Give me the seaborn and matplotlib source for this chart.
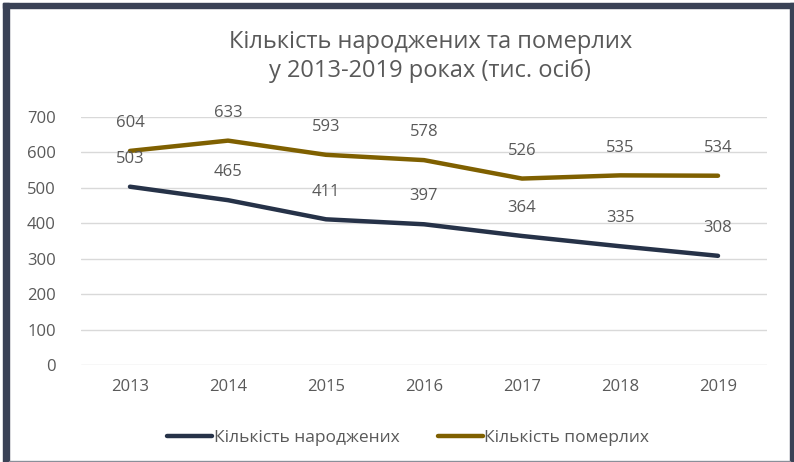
import numpy as np
import pandas as pd
import matplotlib.pyplot as plt
import seaborn as sns
from matplotlib.patches import Rectangle

sns.set_style('white')
plt.rcParams['font.family'] = ['Open Sans', 'DejaVu Sans']

# дані
years = ['2013', '2014', '2015', '2016', '2017', '2018', '2019']
born = [503, 465, 411, 397, 364, 335, 308]
died = [604, 633, 593, 578, 526, 535, 534]
series_names = ['Кількість народжених', 'Кількість померлих']
colors = ['#263248', '#7f6000']
text_col = '#595959'

df = pd.DataFrame({
    'year': years * 2,
    'value': born + died,
    'series': [series_names[0]] * len(years) + [series_names[1]] * len(years),
})

fig = plt.figure(figsize=(7.94, 4.62), dpi=100)
ax = fig.add_axes([0.102, 0.210, 0.864, 0.537])

sns.lineplot(data=df, x='year', y='value', hue='series', palette=colors,
             linewidth=3.2, sort=False, ax=ax, legend=False)
for ln in ax.lines:
    ln.set_solid_capstyle('round')

# підписи значень
for vals in (born, died):
    for i, v in enumerate(vals):
        ax.annotate(str(v), (i, v), xytext=(0, 20), textcoords='offset points',
                    ha='center', va='center', fontsize=12, color=text_col)

ax.set_xlim(-0.5, len(years) - 0.5)
ax.set_ylim(0, 700)
ax.set_yticks(range(0, 701, 100))
ax.yaxis.grid(True, color='#d9d9d9', linewidth=1)
ax.set_axisbelow(True)
for s in ax.spines.values():
    s.set_visible(False)
ax.tick_params(axis='both', length=0, labelsize=12, labelcolor=text_col)
ax.tick_params(axis='y', pad=18)
ax.tick_params(axis='x', pad=10)
ax.set_xlabel('')
ax.set_ylabel('')

fig.text(0.542, 0.878, 'Кількість народжених та померлих\nу 2013-2019 роках (тис. осіб)',
         ha='center', va='center', fontsize=17, color=text_col, linespacing=1.25)

handles = [plt.Line2D([], [], color=c, linewidth=3.2, solid_capstyle='round') for c in colors]
fig.legend(handles, series_names, loc='center', bbox_to_anchor=(0.514, 0.052), ncol=2,
           frameon=False, fontsize=12.5, labelcolor=text_col, handlelength=2.6,
           handletextpad=0.1, columnspacing=2.2)

# рамка
border = '#3a4256'
W, H = 794, 462
fig.patches.append(Rectangle((3 / W, 0), 6 / W, 1 - 3 / H, transform=fig.transFigure, color=border))
fig.patches.append(Rectangle((3 / W, 1 - 8 / H), 791 / W, 5 / H, transform=fig.transFigure, color=border))
fig.patches.append(Rectangle((790 / W, 0), 4 / W, 1 - 3 / H, transform=fig.transFigure, color=border))
fig.patches.append(Rectangle((9 / W, 0), 781 / W, 1.5 / H, transform=fig.transFigure, color='#8a8f99'))

fig.savefig('out.png', dpi=100)
